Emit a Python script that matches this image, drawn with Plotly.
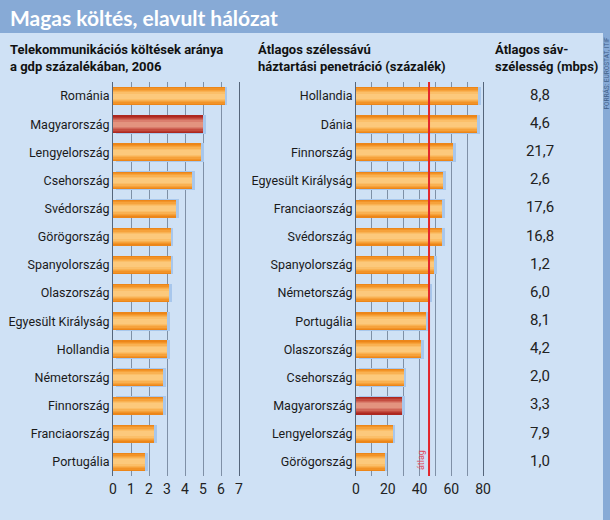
import plotly.graph_objects as go

# ---- data ----
left_countries = ["Románia", "Magyarország", "Lengyelország", "Csehország", "Svédország",
                  "Görögország", "Spanyolország", "Olaszország", "Egyesült Királyság",
                  "Hollandia", "Németország", "Finnország", "Franciaország", "Portugália"]
left_values = [6.2, 5.0, 4.9, 4.4, 3.5, 3.2, 3.2, 3.1, 3.0, 3.0, 2.8, 2.8, 2.3, 1.8]

right_countries = ["Hollandia", "Dánia", "Finnország", "Egyesült Királyság", "Franciaország",
                   "Svédország", "Spanyolország", "Németország", "Portugália", "Olaszország",
                   "Csehország", "Magyarország", "Lengyelország", "Görögország"]
right_values = [77, 76, 61, 55, 54, 54, 49, 46, 44, 41, 30, 29, 23, 18]
bandwidth_mbps = [8.8, 4.6, 21.7, 2.6, 17.6, 16.8, 1.2, 6.0, 8.1, 4.2, 2.0, 3.3, 7.9, 1.0]
average_penetration = 46

left_ticks = [0, 1, 2, 3, 4, 5, 6, 7]
right_ticks = [0, 20, 40, 60, 80]

title = "Magas költés, elavult hálózat"
head_left = "Telekommunikációs költések aránya<br>a gdp százalékában, 2006"
head_mid = "Átlagos szélessávú<br>háztartási penetráció (százalék)"
head_right = "Átlagos sáv-<br>szélesség (mbps)"
source = "FORRÁS: EUROSTAT, ITIF"
avg_label = "átlag"
highlight = "Magyarország"

# ---- style ----
W, H = 610, 520
FONT = "Roboto, Liberation Sans, sans-serif"
PANEL = "#cfe1f5"
BAR_BLUE = "#87aad6"
SHADOW = "#a8c7ec"
widths = [0.63, 0.54, 0.45, 0.36, 0.27, 0.18]
orange_shades = ["#ec8619", "#f29327", "#f6a23b", "#f9b152", "#fbbf69", "#fcc97c"]
red_shades = ["#ad2820", "#b8372d", "#c44c40", "#d06556", "#da7d6d", "#e3937f"]

def px(x):
    return x / W

def py(y):
    return 1 - y / H

ydom = [py(476), py(82)]

fig = go.Figure()

def add_bars(cats, vals, xa, ya, shift):
    fig.add_trace(go.Bar(y=cats, x=vals, base=shift, orientation="h", width=0.66,
                         marker=dict(color=SHADOW, line=dict(width=0)),
                         xaxis=xa, yaxis=ya, hoverinfo="skip", showlegend=False))
    for w, oc, rc in zip(widths, orange_shades, red_shades):
        cols = [rc if c == highlight else oc for c in cats]
        fig.add_trace(go.Bar(y=cats, x=vals, orientation="h", width=w,
                             marker=dict(color=cols, line=dict(width=0)),
                             xaxis=xa, yaxis=ya, showlegend=False))

add_bars(left_countries, left_values, "x", "y", 0.16)
add_bars(right_countries, right_values, "x2", "y2", 1.8)

fig.add_trace(go.Scatter(x=[0] * len(right_countries), y=right_countries, mode="text",
                         text=[f"{v:.1f}".replace(".", ",") for v in bandwidth_mbps],
                         textfont=dict(family=FONT, size=15, color="#222222"),
                         xaxis="x3", yaxis="y2", showlegend=False, hoverinfo="skip"))

axis_font = dict(family=FONT, size=14, color="#222222")
cat_font = dict(family=FONT, size=12.5, color="#1a1a1a")
head_font = dict(family=FONT, size=13, color="#111111")
grid = "#7f90a6"

fig.update_layout(
    width=W, height=H, margin=dict(l=0, r=0, t=0, b=0, autoexpand=False),
    paper_bgcolor=PANEL, plot_bgcolor="rgba(0,0,0,0)",
    barmode="overlay", bargap=0,
    xaxis=dict(domain=[px(113), px(239)], range=[0, 7], tickvals=left_ticks,
               showgrid=True, gridcolor=grid, gridwidth=1, zeroline=False,
               showline=False, ticks="", tickfont=axis_font, anchor="y",
               ticklabelstandoff=3, automargin=False),
    yaxis=dict(domain=ydom, type="category", categoryorder="array",
               categoryarray=left_countries, range=[len(left_countries) - 0.5, -0.5],
               showgrid=False, showline=True, linecolor="#55657a", linewidth=1,
               mirror=True, ticks="", tickfont=cat_font, anchor="x", automargin=False),
    xaxis2=dict(domain=[px(356), px(483)], range=[0, 80], tickvals=right_ticks,
                showgrid=True, gridcolor=grid, gridwidth=1, zeroline=False,
                minor=dict(dtick=10, showgrid=True, gridcolor=grid, gridwidth=1),
                showline=False, ticks="", tickfont=axis_font, anchor="y2",
                ticklabelstandoff=3, automargin=False),
    yaxis2=dict(domain=ydom, type="category", categoryorder="array",
                categoryarray=right_countries, range=[len(right_countries) - 0.5, -0.5],
                showgrid=False, showline=True, linecolor="#55657a", linewidth=1,
                mirror=True, ticks="", tickfont=cat_font, anchor="x2", automargin=False),
    xaxis3=dict(domain=[px(515), px(565)], range=[-1, 1], visible=False, anchor="y2",
                automargin=False),
)

shapes = [
    dict(type="rect", xref="paper", yref="paper", x0=0, x1=1, y0=py(33), y1=1,
         fillcolor=BAR_BLUE, line=dict(width=0), layer="below"),
    dict(type="rect", xref="paper", yref="paper", x0=px(603), x1=1, y0=0, y1=1,
         fillcolor=BAR_BLUE, line=dict(width=0), layer="below"),
    dict(type="line", xref="x2", yref="y2 domain", x0=average_penetration,
         x1=average_penetration, y0=0, y1=1, line=dict(color="#e3252b", width=2)),
]
fig.update_layout(shapes=shapes)

ann = [
    dict(text=f"<b>{title}</b>", x=px(8), y=py(18), xref="paper", yref="paper",
         xanchor="left", yanchor="middle", showarrow=False,
         font=dict(family="Lato, Open Sans, sans-serif", size=21, color="white")),
    dict(text=f"<b>{head_left}</b>", x=px(8), y=py(58), xref="paper", yref="paper",
         xanchor="left", yanchor="middle", align="left", showarrow=False, font=head_font),
    dict(text=f"<b>{head_mid}</b>", x=px(256), y=py(58), xref="paper", yref="paper",
         xanchor="left", yanchor="middle", align="left", showarrow=False, font=head_font),
    dict(text=f"<b>{head_right}</b>", x=px(493), y=py(58), xref="paper", yref="paper",
         xanchor="left", yanchor="middle", align="left", showarrow=False, font=head_font),
    dict(text=source, x=px(606.5), y=py(36), xref="paper", yref="paper",
         xanchor="center", yanchor="top", textangle=-90, showarrow=False,
         font=dict(family=FONT, size=6.5, color="#3f5f88")),
    dict(text=avg_label, x=average_penetration, xref="x2", y=0.01, yref="y2 domain",
         xanchor="right", yanchor="bottom", xshift=-1, textangle=-90, showarrow=False,
         font=dict(family=FONT, size=9, color="#e0455a")),
]
fig.update_layout(annotations=ann)

fig.write_html("out.html", config={"displayModeBar": False},
               post_script="document.body.style.margin='0';document.body.style.overflow='hidden';")
